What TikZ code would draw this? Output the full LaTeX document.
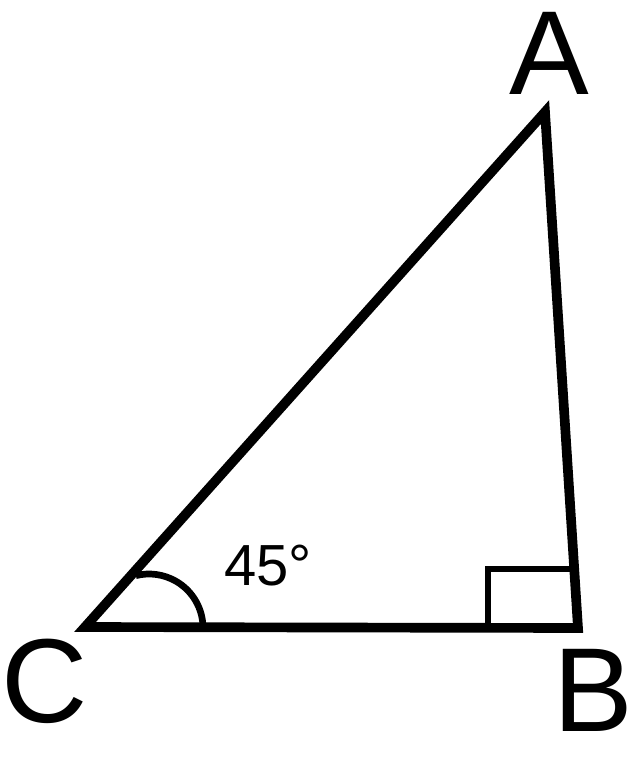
\documentclass[tikz,border=0pt]{standalone}
\usepackage{fontspec}
\setmainfont{Liberation Sans}
\usetikzlibrary{positioning}

\begin{document}
\begin{tikzpicture}[
    x=0.02cm, y=-0.02cm,
    side/.style={line width=5.5pt, line join=miter},
    anglemark/.style={line width=3.8pt},
    vlabel/.style={inner sep=0pt, font=\fontsize{68}{68}\selectfont},
    anglabel/.style={inner sep=0pt, font=\fontsize{33}{33}\selectfont}
]
\useasboundingbox (0,0) rectangle (631,771);

% Vertices
\coordinate (C) at (85, 627);
\coordinate (B) at (578, 628);
\coordinate (A) at (545, 112);

% Vertex labels
\node[vlabel] (labA) at (549, 53) {A};
\node[vlabel] (labC) at (45, 681) {C};
\node[vlabel] (labB) at (593, 690) {B};

% Angle label
\node[anglabel] (ang) at (268, 566) {45°};

% Triangle
\draw[side] (C) -- (B) -- (A) -- cycle;

% Right angle mark at B
\coordinate (rb) at (488, 628);
\coordinate (rc) at (488, 569);
\coordinate (rt) at (575, 569);
\draw[anglemark] (rb) -- (rc) -- (rt);

% Angle arc at C
\coordinate (arcs) at (203, 628);
\draw[anglemark] (arcs) arc[start angle=0, end angle=-104, radius=54];

\end{tikzpicture}
\end{document}
